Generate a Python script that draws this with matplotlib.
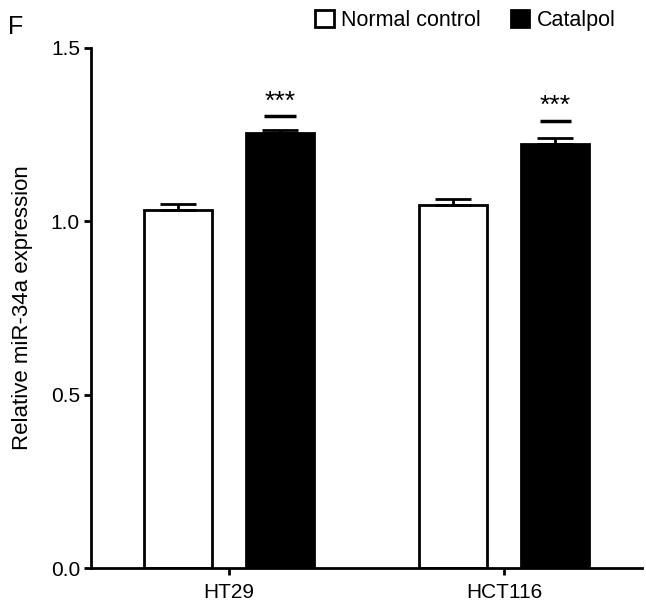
import matplotlib
matplotlib.use("Agg")
import matplotlib.pyplot as plt
import numpy as np
from matplotlib.patches import Patch

plt.rcParams['font.family'] = ['Liberation Sans', 'DejaVu Sans']

categories = ["HT29", "HCT116"]
series_names = ["Normal control", "Catalpol"]
control_vals = [1.033, 1.047]
control_err = [0.016, 0.016]
catalpol_vals = [1.255, 1.222]
catalpol_err = [0.008, 0.017]
sig_labels = ["***", "***"]
sig_heights = [1.303, 1.290]
yticks = [0.0, 0.5, 1.0, 1.5]

fig = plt.figure(figsize=(6.46, 6.09), dpi=100)
ax = fig.add_axes([0.141, 0.0673, 0.853, 0.854])

x = np.arange(len(categories))
w = 0.247
off = 0.185
lw = 2.0

ax.bar(x - off, control_vals, w, color='white', edgecolor='black', linewidth=lw, zorder=2)
ax.bar(x + off, catalpol_vals, w, color='black', edgecolor='black', linewidth=lw, zorder=2)
ax.errorbar(x - off, control_vals, yerr=[np.zeros(len(x)), control_err], fmt='none',
            ecolor='black', elinewidth=lw, capsize=13, capthick=lw, zorder=3)
ax.errorbar(x + off, catalpol_vals, yerr=[np.zeros(len(x)), catalpol_err], fmt='none',
            ecolor='black', elinewidth=lw, capsize=13, capthick=lw, zorder=3)

for xi, h, s in zip(x + off, sig_heights, sig_labels):
    ax.plot([xi - 0.057, xi + 0.057], [h, h], color='black', lw=2.5, solid_capstyle='butt')
    ax.text(xi, h + 0.008, s, ha='center', va='bottom', fontsize=19)

ax.set_xlim(-0.5, 1.5)
ax.set_ylim(0, 1.5)
ax.set_yticks(yticks)
ax.set_yticklabels([f"{v:.1f}" for v in yticks])
ax.set_xticks(x)
ax.set_xticklabels(categories)
ax.tick_params(axis='both', labelsize=15, width=lw, length=5, direction='out')
ax.tick_params(axis='y', pad=3)
ax.tick_params(axis='x', pad=6)
for sp in ['top', 'right']:
    ax.spines[sp].set_visible(False)
for sp in ['left', 'bottom']:
    ax.spines[sp].set_linewidth(lw)
ax.set_ylabel("Relative miR-34a expression", fontsize=16)
ax.yaxis.set_label_coords(-0.105, 0.5)

handles = [Patch(facecolor='white', edgecolor='black', linewidth=2),
           Patch(facecolor='black', edgecolor='black', linewidth=2)]
fig.legend(handles, series_names, loc='center right', bbox_to_anchor=(0.953, 0.966), ncol=2,
           frameon=False, fontsize=15.5, handlelength=0.85, handleheight=0.85,
           handletextpad=0.35, columnspacing=1.4, borderpad=0, borderaxespad=0)

fig.text(0.012, 0.955, "F", fontsize=18, ha='left', va='center')

fig.savefig("out.png", dpi=100)
